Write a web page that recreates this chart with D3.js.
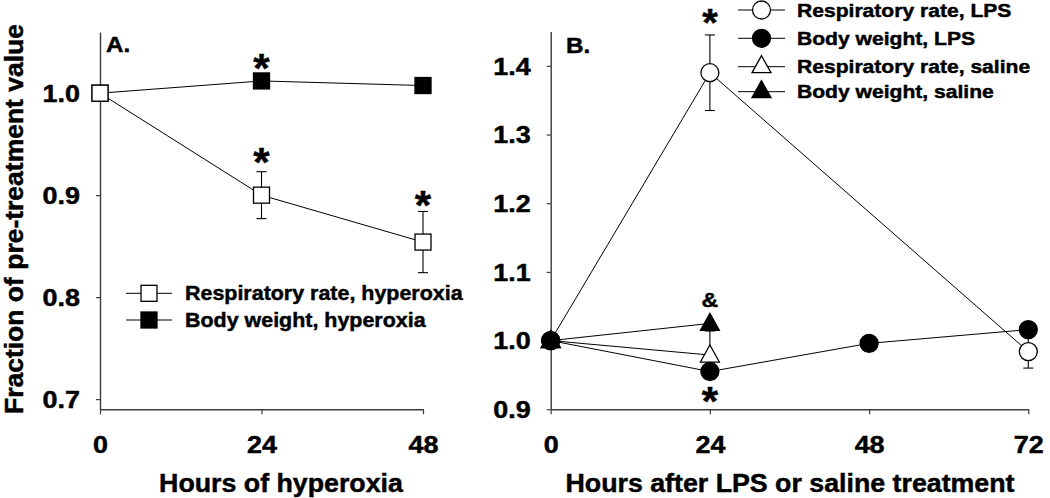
<!DOCTYPE html>
<html><head><meta charset="utf-8">
<script src="https://cdn.jsdelivr.net/npm/d3@7"></script>
<style>body{margin:0;background:#fff}svg{display:block}</style>
</head><body>
<svg id="c" width="1050" height="498"></svg>
<script>
// ---------- Panel A data ----------
const hoursA = [0, 24, 48];
const rrHyperoxia = [1.0, 0.900, 0.854];
const rrHyperoxiaErr = [0, 0.023, 0.030];
const bwHyperoxia = [1.0, 1.012, 1.0075];
const yTicksA = [0.7, 0.8, 0.9, 1.0];
const xTicksA = [0, 24, 48];
const legendA = ["Respiratory rate, hyperoxia", "Body weight, hyperoxia"];

// ---------- Panel B data ----------
const rrLPSHours = [0, 24, 72];
const rrLPS = [1.0, 1.39, 0.984];
const rrLPSErr = [0, 0.055, 0.024];
const bwLPSHours = [0, 24, 48, 72];
const bwLPS = [1.0, 0.955, 0.996, 1.016];
const bwLPSErr = [0, 0.011, 0, 0];
const rrSalineHours = [0, 24];
const rrSaline = [1.0, 0.979];
const rrSalineErr = [0, 0.035];
const bwSalineHours = [0, 24];
const bwSaline = [1.0, 1.025];
const yTicksB = [0.9, 1.0, 1.1, 1.2, 1.3, 1.4];
const xTicksB = [0, 24, 48, 72];
const legendB = ["Respiratory rate, LPS", "Body weight, LPS", "Respiratory rate, saline", "Body weight, saline"];

const FONT = '"Liberation Sans", Arial, Helvetica, sans-serif';
const svg = d3.select("#c");

function txt(g, x, y, s, size, sx, anchor, rot) {
  return g.append("text")
    .attr("transform", `translate(${x},${y}) rotate(${rot||0}) scale(${sx},1)`)
    .attr("text-anchor", anchor || "start")
    .style("font-family", FONT).style("font-weight", "bold")
    .style("font-size", size + "px").attr("fill", "#000")
    .attr("stroke", "#000").attr("stroke-width", 0.45)
    .text(s);
}

function styleAxis(g, sx, left, pad, tick) {
  g.select(".domain").attr("stroke", "#3a3a3a").attr("stroke-width", 1.4);
  g.selectAll(".tick line").attr("stroke", "#3a3a3a").attr("stroke-width", 1.2);
  g.selectAll(".tick text").style("font-family", FONT).style("font-weight", "bold")
    .style("font-size", "23px").attr("fill", "#000").attr("stroke", "#000").attr("stroke-width", 0.45);
  if (left) {
    g.selectAll(".tick text").attr("x", -(tick + pad) / sx).attr("transform", `scale(${sx},1)`);
  } else {
    g.selectAll(".tick text").attr("transform", `scale(${sx},1)`);
  }
  g.attr("font-family", null).attr("font-size", null);
}

function square(g, x, y, filled) {
  g.append("rect").attr("x", x - 8).attr("y", y - 8).attr("width", 16).attr("height", 16)
    .attr("fill", filled ? "#000" : "#fff").attr("stroke", "#000").attr("stroke-width", 1.3);
}
function circle(g, x, y, filled) {
  g.append("circle").attr("cx", x).attr("cy", y).attr("r", 9)
    .attr("fill", filled ? "#000" : "#fff").attr("stroke", "#000").attr("stroke-width", 1.3);
}
function triangle(g, x, y, filled) {
  g.append("path").attr("d", `M${x},${y - 10}L${x + 9.5},${y + 7}L${x - 9.5},${y + 7}Z`)
    .attr("fill", filled ? "#000" : "#fff").attr("stroke", "#000").attr("stroke-width", 1.3);
}
function errBars(g, xs, ys, es, x, y) {
  xs.forEach((h, i) => {
    if (!es[i]) return;
    const X = x(h), y1 = y(ys[i] + es[i]), y2 = y(ys[i] - es[i]);
    g.append("line").attr("x1", X).attr("x2", X).attr("y1", y1).attr("y2", y2).attr("stroke", "#000").attr("stroke-width", 1.1);
    [y1, y2].forEach(yy => g.append("line").attr("x1", X - 5).attr("x2", X + 5).attr("y1", yy).attr("y2", yy).attr("stroke", "#000").attr("stroke-width", 1.1));
  });
}
function seriesLine(g, xs, ys, x, y) {
  const line = d3.line().x((d, i) => x(xs[i])).y(d => y(d));
  g.append("path").attr("d", line(ys)).attr("fill", "none").attr("stroke", "#000").attr("stroke-width", 1);
}

// ================= Panel A =================
const xA = d3.scaleLinear().domain([0, 48]).range([100, 423]);
const yA = d3.scaleLinear().domain([0.69, 1.06]).range([409.3, 32]);
const gA = svg.append("g");

const axAy = gA.append("g").attr("transform", "translate(100,0)")
  .call(d3.axisLeft(yA).tickValues(yTicksA).tickFormat(d3.format(".1f")).tickSize(4).tickSizeOuter(0).tickPadding(16));
styleAxis(axAy, 1.17, true, 16, 4);
axAy.selectAll(".tick text").attr("dy", "0.36em");
const axAx = gA.append("g").attr("transform", "translate(0,409.3)")
  .call(d3.axisBottom(xA).tickValues(xTicksA).tickFormat(d3.format("d")).tickSize(5).tickSizeOuter(0).tickPadding(22));
styleAxis(axAx, 1.17, false, 22, 5);

seriesLine(gA, hoursA, bwHyperoxia, xA, yA);
seriesLine(gA, hoursA, rrHyperoxia, xA, yA);
errBars(gA, hoursA, rrHyperoxia, rrHyperoxiaErr, xA, yA);
hoursA.forEach((h, i) => square(gA, xA(h), yA(bwHyperoxia[i]), true));
hoursA.forEach((h, i) => square(gA, xA(h), yA(rrHyperoxia[i]), false));

// significance stars (A)
txt(gA, xA(24), 82, "*", 40, 1.05, "middle");
txt(gA, xA(24), 176, "*", 40, 1.05, "middle");
txt(gA, xA(48), 219, "*", 40, 1.05, "middle");

txt(gA, 106, 52, "A.", 22, 1.1, "start");

// legend A
[[293.3, false], [320, true]].forEach(([ly, f], i) => {
  gA.append("line").attr("x1", 126).attr("x2", 172).attr("y1", ly).attr("y2", ly).attr("stroke", "#000").attr("stroke-width", 1);
  square(gA, 149, ly, f);
  txt(gA, 185, ly + 7, legendA[i], 19.5, 1.1, "start");
});

txt(gA, 281, 491.5, "Hours of hyperoxia", 25.5, 1.05, "middle");
txt(svg, 23, 219, "Fraction of pre-treatment value", 25, 1.06, "middle", -90);

// ================= Panel B =================
const xB = d3.scaleLinear().domain([0, 72]).range([550.7, 1028.3]);
const yB = d3.scaleLinear().domain([0.9, 1.45]).range([409.3, 31.5]);
const gB = svg.append("g");

const axBy = gB.append("g").attr("transform", "translate(550.7,0)")
  .call(d3.axisLeft(yB).tickValues(yTicksB).tickFormat(d3.format(".1f")).tickSize(4).tickSizeOuter(0).tickPadding(16));
styleAxis(axBy, 1.17, true, 16, 4);
axBy.selectAll(".tick text").attr("dy", "0.36em");
const axBx = gB.append("g").attr("transform", "translate(0,409.3)")
  .call(d3.axisBottom(xB).tickValues(xTicksB).tickFormat(d3.format("d")).tickSize(5).tickSizeOuter(0).tickPadding(22));
styleAxis(axBx, 1.17, false, 22, 5);

seriesLine(gB, rrLPSHours, rrLPS, xB, yB);
seriesLine(gB, bwLPSHours, bwLPS, xB, yB);
seriesLine(gB, rrSalineHours, rrSaline, xB, yB);
seriesLine(gB, bwSalineHours, bwSaline, xB, yB);
errBars(gB, rrLPSHours, rrLPS, rrLPSErr, xB, yB);
errBars(gB, rrSalineHours, rrSaline, rrSalineErr, xB, yB);
errBars(gB, bwLPSHours, bwLPS, bwLPSErr, xB, yB);
rrLPSHours.forEach((h, i) => circle(gB, xB(h), yB(rrLPS[i]), false));
rrSalineHours.forEach((h, i) => triangle(gB, xB(h), yB(rrSaline[i]), false));
bwSalineHours.forEach((h, i) => triangle(gB, xB(h), yB(bwSaline[i]), true));
bwLPSHours.forEach((h, i) => circle(gB, xB(h), yB(bwLPS[i]), true));

txt(gB, xB(24), 36, "*", 38, 1.05, "middle");
txt(gB, xB(24), 415, "*", 40, 1.05, "middle");
txt(gB, xB(24), 307, "&", 21, 1.1, "middle");

txt(gB, 566, 53, "B.", 22, 1.1, "start");

// legend B
const legRowsB = [[10, 16.7, "circle", false], [38.3, 45, "circle", true], [66.7, 72.7, "tri", false], [91.7, 97.7, "tri", true]];
legRowsB.forEach(([my, by, shape, f], i) => {
  gB.append("line").attr("x1", 738).attr("x2", 785).attr("y1", my).attr("y2", my).attr("stroke", "#000").attr("stroke-width", 1);
  if (shape === "circle") circle(gB, 761.5, my, f); else triangle(gB, 761.5, my - 1, f);
  txt(gB, 797, by, legendB[i], 18.5, 1.14, "start");
});

txt(gB, 790, 492, "Hours after LPS or saline treatment", 25.5, 1.05, "middle");
</script>
</body></html>
